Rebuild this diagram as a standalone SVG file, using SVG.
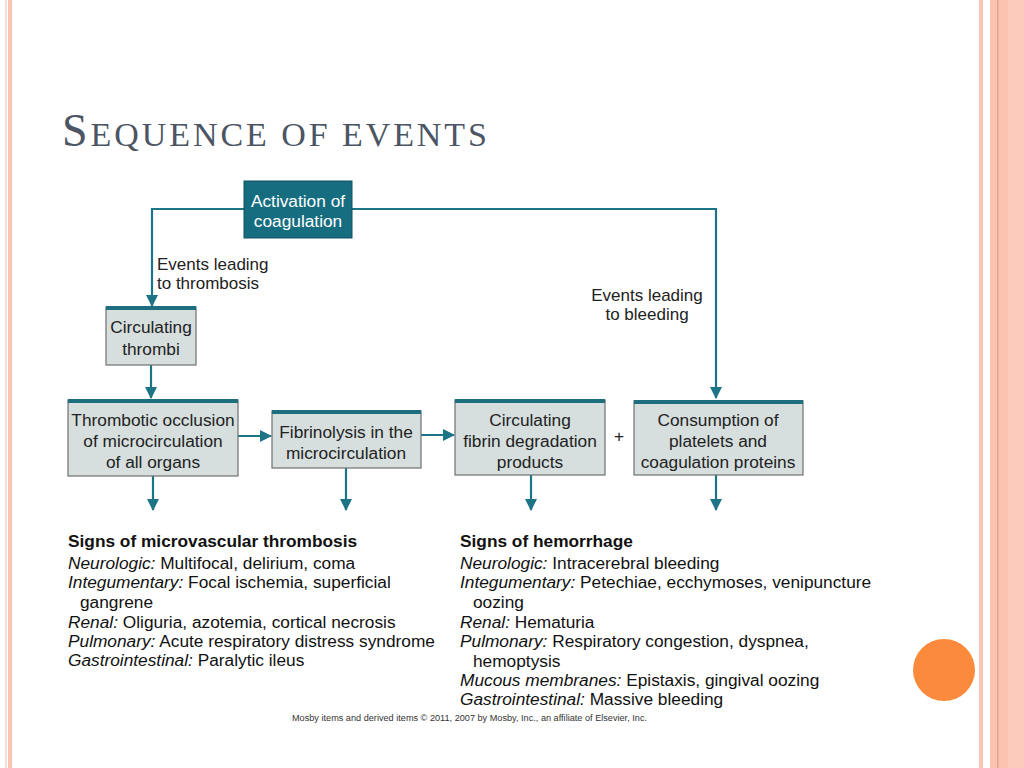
<svg xmlns="http://www.w3.org/2000/svg" width="1024" height="768" viewBox="0 0 1024 768">
<defs>
<marker id="ah" viewBox="0 0 12 12" refX="11" refY="6" markerWidth="12" markerHeight="12" markerUnits="userSpaceOnUse" orient="auto">
<path d="M0,0 L12,6 L0,12 Z" fill="#1d7487"/>
</marker>
<style>
.box{fill:#d6dfde;stroke:#707070;stroke-width:1.2}
.bar{fill:#1d6f80}
.bt{font-family:"Liberation Sans",Arial,sans-serif;font-size:17.3px;fill:#222;text-anchor:middle}
.lbl{font-family:"Liberation Sans",Arial,sans-serif;font-size:17px;fill:#222}
.ln{fill:none;stroke:#1d7487;stroke-width:2.2}
.lst{font-family:"Liberation Sans",Arial,sans-serif;font-size:17.3px;fill:#111}
.it{font-style:italic}
</style>
</defs>
<rect width="1024" height="768" fill="#ffffff"/>
<rect x="5" y="0" width="2" height="768" fill="#f6e2d4"/>
<rect x="8" y="0" width="4" height="768" fill="#fcc3b3"/>
<rect x="979" y="0" width="4" height="768" fill="#fac5b5"/>
<rect x="990" y="0" width="18" height="768" fill="#fcc3b1"/>
<rect x="1008" y="0" width="16" height="768" fill="#fdcbbb"/>
<rect x="997" y="0" width="1.5" height="768" fill="#e3a48c"/>
<circle cx="944" cy="670" r="31" fill="#fb8a3c"/>
<text x="62" y="146" font-family="'Liberation Serif','Times New Roman',serif" fill="#4b5563" textLength="425" lengthAdjust="spacing"><tspan font-size="46">S</tspan><tspan font-size="34">EQUENCE OF EVENTS</tspan></text>
<g id="connectors">
<path class="ln" d="M244,209 H152 V306" marker-end="url(#ah)"/>
<path class="ln" d="M352,209 H716 V398" marker-end="url(#ah)"/>
<path class="ln" d="M151,365 V398" marker-end="url(#ah)"/>
<path class="ln" d="M238,436 H271" marker-end="url(#ah)"/>
<path class="ln" d="M421,435 H454" marker-end="url(#ah)"/>
<path class="ln" d="M153,476 V510" marker-end="url(#ah)"/>
<path class="ln" d="M346,468 V510" marker-end="url(#ah)"/>
<path class="ln" d="M531,475 V510" marker-end="url(#ah)"/>
<path class="ln" d="M716,475 V510" marker-end="url(#ah)"/>
</g>
<g id="lbl-thrombosis"><text class="lbl" x="157" y="270">Events leading</text><text class="lbl" x="157" y="289">to thrombosis</text></g>
<g id="lbl-bleeding"><text class="lbl" x="647" y="301" text-anchor="middle">Events leading</text><text class="lbl" x="647" y="320" text-anchor="middle">to bleeding</text></g>
<g id="activation">
<rect x="244" y="181" width="108" height="57" fill="#176d80" stroke="#12505e" stroke-width="1"/>
<text class="bt" x="298" y="207" style="fill:#ffffff">Activation of</text>
<text class="bt" x="298" y="227" style="fill:#ffffff">coagulation</text>
</g>
<g id="thrombi">
<rect class="box" x="106" y="307" width="90" height="58"/>
<rect class="bar" x="106" y="306" width="90" height="4"/>
<text class="bt" x="151" y="333">Circulating</text>
<text class="bt" x="151" y="355">thrombi</text>
</g>
<g id="occlusion">
<rect class="box" x="68" y="400" width="170" height="76"/>
<rect class="bar" x="68" y="399" width="170" height="4"/>
<text class="bt" x="153" y="426">Thrombotic occlusion</text>
<text class="bt" x="153" y="447">of microcirculation</text>
<text class="bt" x="153" y="468">of all organs</text>
</g>
<g id="fibrinolysis">
<rect class="box" x="272" y="411" width="149" height="57"/>
<rect class="bar" x="272" y="410" width="149" height="4"/>
<text class="bt" x="346" y="438">Fibrinolysis in the</text>
<text class="bt" x="346" y="459">microcirculation</text>
</g>
<g id="fdp">
<rect class="box" x="455" y="400" width="150" height="75"/>
<rect class="bar" x="455" y="399" width="150" height="4"/>
<text class="bt" x="530" y="426">Circulating</text>
<text class="bt" x="530" y="447">fibrin degradation</text>
<text class="bt" x="530" y="468">products</text>
</g>
<text class="bt" x="619" y="442">+</text>
<g id="consumption">
<rect class="box" x="634" y="401" width="169" height="74"/>
<rect class="bar" x="634" y="400" width="169" height="4"/>
<text class="bt" x="718" y="426">Consumption of</text>
<text class="bt" x="718" y="447">platelets and</text>
<text class="bt" x="718" y="468">coagulation proteins</text>
</g>
<g id="list-thrombosis">
<text class="lst" x="68" y="547" font-weight="bold">Signs of microvascular thrombosis</text>
<text class="lst" x="68" y="569"><tspan class="it">Neurologic:</tspan> Multifocal, delirium, coma</text>
<text class="lst" x="68" y="588"><tspan class="it">Integumentary:</tspan> Focal ischemia, superficial</text>
<text class="lst" x="80" y="608">gangrene</text>
<text class="lst" x="68" y="628"><tspan class="it">Renal:</tspan> Oliguria, azotemia, cortical necrosis</text>
<text class="lst" x="68" y="647"><tspan class="it">Pulmonary:</tspan> Acute respiratory distress syndrome</text>
<text class="lst" x="68" y="666"><tspan class="it">Gastrointestinal:</tspan> Paralytic ileus</text>
</g>
<g id="list-hemorrhage">
<text class="lst" x="460" y="547" font-weight="bold">Signs of hemorrhage</text>
<text class="lst" x="460" y="569"><tspan class="it">Neurologic:</tspan> Intracerebral bleeding</text>
<text class="lst" x="460" y="588"><tspan class="it">Integumentary:</tspan> Petechiae, ecchymoses, venipuncture</text>
<text class="lst" x="473" y="608">oozing</text>
<text class="lst" x="460" y="628"><tspan class="it">Renal:</tspan> Hematuria</text>
<text class="lst" x="460" y="647"><tspan class="it">Pulmonary:</tspan> Respiratory congestion, dyspnea,</text>
<text class="lst" x="473" y="667">hemoptysis</text>
<text class="lst" x="460" y="686"><tspan class="it">Mucous membranes:</tspan> Epistaxis, gingival oozing</text>
<text class="lst" x="460" y="705"><tspan class="it">Gastrointestinal:</tspan> Massive bleeding</text>
</g>
<text x="292" y="721" font-family="'Liberation Sans',Arial,sans-serif" font-size="8.5" fill="#333" textLength="355" lengthAdjust="spacingAndGlyphs">Mosby items and derived items © 2011, 2007 by Mosby, Inc., an affiliate of Elsevier, Inc.</text>
</svg>
